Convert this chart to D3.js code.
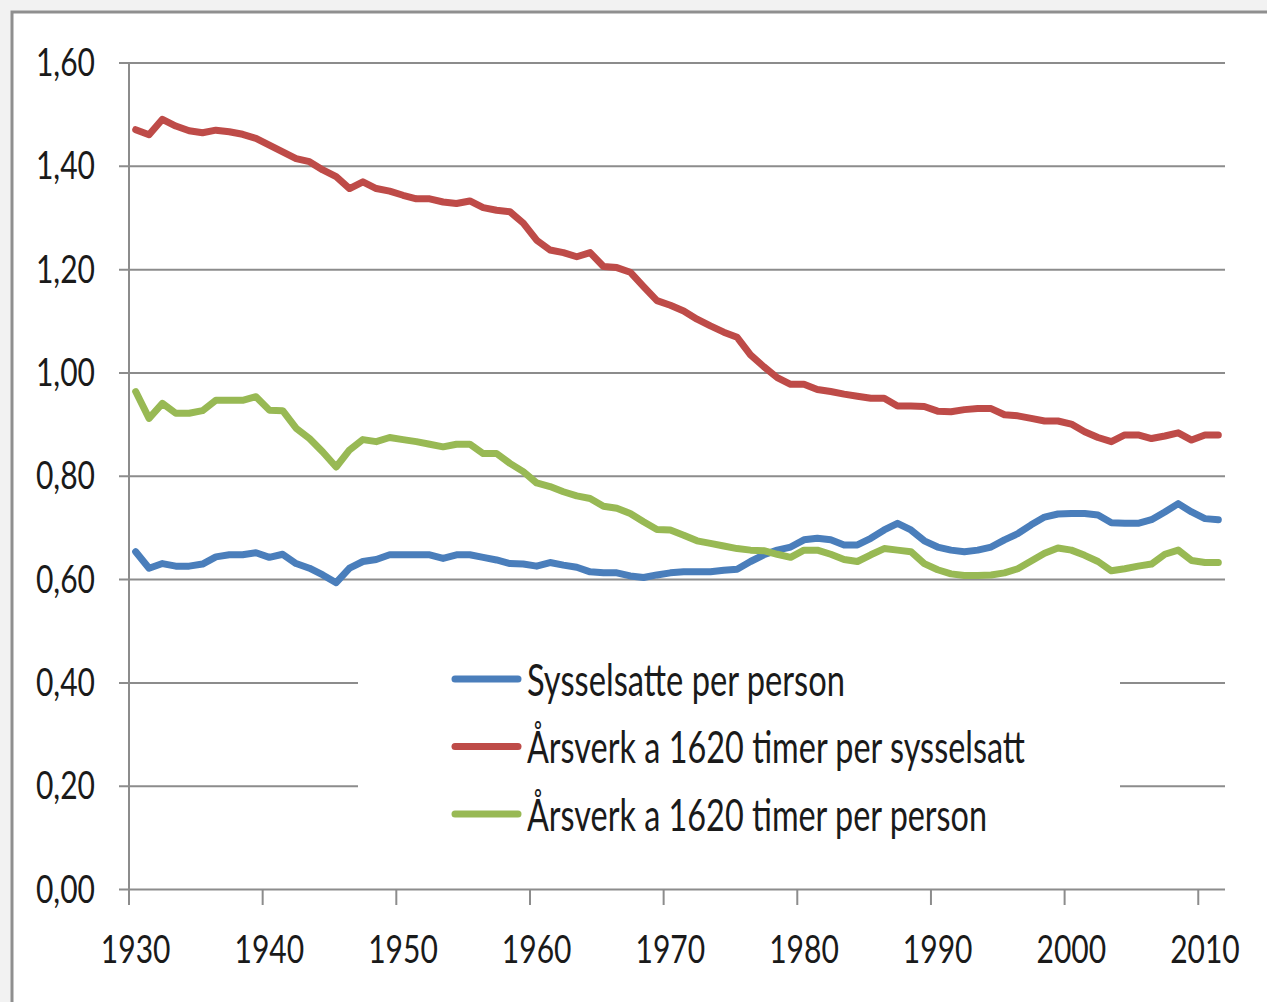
<!DOCTYPE html>
<html><head><meta charset="utf-8">
<script src="https://cdn.jsdelivr.net/npm/d3@7"></script>
<style>html,body{margin:0;padding:0;background:#f2f2f2;overflow:hidden}svg{display:block}</style>
</head><body>
<svg id="chart" width="1267" height="1002"></svg>
<script>
// ---- DATA ----
const years = d3.range(1930, 2012); // categories 1930..2011
const xTickYears = [1930, 1940, 1950, 1960, 1970, 1980, 1990, 2000, 2010];
const yTicks = [0, 0.2, 0.4, 0.6, 0.8, 1.0, 1.2, 1.4, 1.6];
const yTickLabels = ["0,00", "0,20", "0,40", "0,60", "0,80", "1,00", "1,20", "1,40", "1,60"];
const seriesNames = ["Sysselsatte per person", "Årsverk a 1620 timer per sysselsatt", "Årsverk a 1620 timer per person"];
const seriesColors = ["#4a7ebb", "#be4b48", "#98b954"];

const sysselsattePerPerson = [
  0.653,0.621,0.630,0.625,0.625,0.629,0.643,0.647,0.647,0.651,
  0.642,0.648,0.630,0.621,0.608,0.593,0.621,0.634,0.638,0.647,
  0.647,0.647,0.647,0.640,0.647,0.647,0.642,0.637,0.630,0.629,
  0.625,0.632,0.627,0.623,0.614,0.612,0.612,0.606,0.603,0.608,
  0.612,0.614,0.614,0.614,0.617,0.619,0.634,0.647,0.656,0.662,
  0.676,0.679,0.676,0.666,0.666,0.679,0.695,0.708,0.695,0.674,
  0.662,0.656,0.653,0.656,0.662,0.676,0.688,0.705,0.720,0.726,
  0.727,0.727,0.724,0.709,0.708,0.708,0.715,0.730,0.746,0.730,
  0.717,0.715];
const arsverkPerSysselsatt = [
  1.470,1.460,1.490,1.477,1.468,1.464,1.469,1.466,1.461,1.453,
  1.440,1.427,1.414,1.408,1.392,1.379,1.356,1.369,1.356,1.351,
  1.343,1.336,1.336,1.330,1.327,1.332,1.319,1.314,1.311,1.289,
  1.256,1.237,1.232,1.224,1.232,1.205,1.203,1.194,1.166,1.139,
  1.130,1.119,1.103,1.090,1.078,1.068,1.034,1.011,0.990,0.977,
  0.977,0.967,0.963,0.958,0.954,0.950,0.950,0.935,0.935,0.934,
  0.925,0.924,0.928,0.930,0.930,0.918,0.916,0.911,0.906,0.906,
  0.900,0.885,0.874,0.866,0.879,0.879,0.872,0.877,0.883,0.869,
  0.879,0.879];
const arsverkPerPerson = [
  0.963,0.911,0.940,0.921,0.921,0.926,0.946,0.946,0.946,0.953,
  0.927,0.926,0.892,0.872,0.846,0.817,0.850,0.870,0.866,0.874,
  0.870,0.866,0.861,0.856,0.861,0.861,0.843,0.843,0.824,0.808,
  0.786,0.779,0.769,0.761,0.756,0.741,0.737,0.727,0.711,0.696,
  0.695,0.685,0.674,0.669,0.664,0.659,0.656,0.655,0.648,0.642,
  0.656,0.656,0.648,0.638,0.634,0.647,0.659,0.656,0.653,0.630,
  0.618,0.610,0.607,0.607,0.608,0.612,0.620,0.635,0.650,0.660,
  0.656,0.646,0.634,0.616,0.620,0.625,0.629,0.648,0.656,0.636,
  0.632,0.632];
const seriesValues = [sysselsattePerPerson, arsverkPerSysselsatt, arsverkPerPerson];

(function () {
// ---- LAYOUT ----
const svg = d3.select("#chart");
const pLeft = 129, pRight = 1225, pTop = 62.5, pBottom = 889;
const gridColor = "#8c8c8c";
const font = "Lato, 'Open Sans', sans-serif";
const sx = 0.77; // horizontal condense of text

// frame
svg.append("rect").attr("x", 12).attr("y", 12).attr("width", 1300).attr("height", 1100)
  .attr("fill", "#ffffff").attr("stroke", "#8f8f8f").attr("stroke-width", 3);

const x = d3.scaleBand().domain(years).range([pLeft, pRight]).paddingInner(0).paddingOuter(0);
const y = d3.scaleLinear().domain([0, 1.6]).range([pBottom, pTop]);
const bw = x.bandwidth();

// gridlines (with y-axis outward ticks)
const yAxis = d3.axisLeft(y).tickValues(yTicks).tickSize(-(pRight - pLeft)).tickFormat("").tickSizeOuter(0);
const gy = svg.append("g").attr("transform", `translate(${pLeft},0)`).call(yAxis);
gy.select(".domain").remove();
gy.selectAll(".tick line").attr("x1", -10).attr("stroke", gridColor).attr("stroke-width", 2);
svg.append("line").attr("x1", pLeft).attr("x2", pLeft).attr("y1", pTop).attr("y2", pBottom)
  .attr("stroke", gridColor).attr("stroke-width", 2);

// y tick labels
yTicks.forEach((t, i) => {
  svg.append("text").attr("transform", `translate(95,${y(t) + 13.5}) scale(${sx},1)`)
    .attr("text-anchor", "end").attr("font-family", font).attr("font-size", 39)
    .attr("fill", "#1a1a1a").text(yTickLabels[i]);
});

// x axis ticks at category boundaries
const gx = svg.append("g");
xTickYears.forEach(yr => {
  gx.append("line").attr("x1", x(yr)).attr("x2", x(yr)).attr("y1", pBottom).attr("y2", pBottom + 16)
    .attr("stroke", gridColor).attr("stroke-width", 2);
  gx.append("text").attr("transform", `translate(${x(yr) + bw / 2},963) scale(${sx},1)`)
    .attr("text-anchor", "middle").attr("font-family", font).attr("font-size", 39)
    .attr("fill", "#1a1a1a").text(yr);
});

// legend background box
svg.append("rect").attr("x", 358).attr("y", 640).attr("width", 762).attr("height", 210).attr("fill", "#ffffff");

// series lines
const line = d3.line().x((d, i) => x(years[i]) + bw / 2).y(d => y(d)).curve(d3.curveLinear);
seriesValues.forEach((vals, k) => {
  svg.append("path").datum(vals).attr("d", line).attr("fill", "none")
    .attr("stroke", seriesColors[k]).attr("stroke-width", 7)
    .attr("stroke-linejoin", "round").attr("stroke-linecap", "round");
});

// legend
const legendRowY = [679, 746.5, 814];
const legendWidths = [318, 498, 460];
seriesNames.forEach((name, k) => {
  const ly = legendRowY[k];
  svg.append("line").attr("x1", 455).attr("x2", 518).attr("y1", ly).attr("y2", ly)
    .attr("stroke", seriesColors[k]).attr("stroke-width", 7).attr("stroke-linecap", "round");
  svg.append("text").attr("x", 527).attr("y", ly + 16.5)
    .attr("font-family", font).attr("font-size", 45).attr("fill", "#1a1a1a")
    .attr("textLength", legendWidths[k]).attr("lengthAdjust", "spacingAndGlyphs")
    .text(name);
});
})();
</script>
</body></html>
